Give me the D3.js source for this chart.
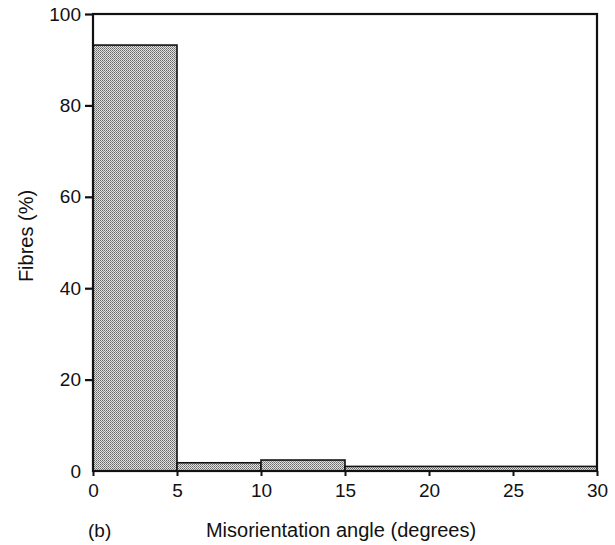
<!DOCTYPE html>
<html><head><meta charset="utf-8">
<script src="https://cdn.jsdelivr.net/npm/d3@7"></script>
<style>body{margin:0;background:#fff;} svg{display:block;} text{font-family:"Liberation Sans",Arial,sans-serif;fill:#111;}</style>
</head><body><svg id="c" width="615" height="545"></svg>
<script>
const binStarts = [0, 5, 10, 15];
const binEnds = [5, 10, 15, 30];
const values = [93.2, 1.8, 2.4, 1.0];
const xTicks = [0, 5, 10, 15, 20, 25, 30];
const yTicks = [0, 20, 40, 60, 80, 100];

const svg = d3.select("#c");
const m = {l: 93, r: 18, t: 14, b: 74};
const W = 615, H = 545;
const x = d3.scaleLinear().domain([0, 30]).range([m.l, W - m.r]);
const y = d3.scaleLinear().domain([0, 100]).range([H - m.b, m.t]);

const defs = svg.append("defs");
const pat = defs.append("pattern").attr("id", "stip").attr("width", 2).attr("height", 2).attr("patternUnits", "userSpaceOnUse");
pat.append("rect").attr("width", 2).attr("height", 2).attr("fill", "#e2e2e2");
pat.append("rect").attr("x", 0).attr("y", 0).attr("width", 1).attr("height", 1).attr("fill", "#666");
pat.append("rect").attr("x", 1).attr("y", 1).attr("width", 1).attr("height", 1).attr("fill", "#888");

const data = binStarts.map((s, i) => ({s, e: binEnds[i], v: values[i]}));
svg.append("g").selectAll("rect").data(data).join("rect")
  .attr("x", d => x(d.s)).attr("width", d => x(d.e) - x(d.s))
  .attr("y", d => y(d.v)).attr("height", d => y(0) - y(d.v))
  .attr("fill", "url(#stip)").attr("stroke", "#111").attr("stroke-width", 1.6);

// frame
svg.append("rect").attr("x", x(0)).attr("y", y(100)).attr("width", x(30) - x(0)).attr("height", y(0) - y(100))
  .attr("fill", "none").attr("stroke", "#111").attr("stroke-width", 2.2);

const xa = svg.append("g").attr("transform", `translate(0,${y(0)})`)
  .call(d3.axisBottom(x).tickValues(xTicks).tickSize(5).tickPadding(8));
xa.select(".domain").remove();
xa.selectAll("line").attr("stroke", "#111").attr("stroke-width", 2);
xa.selectAll("text").attr("font-size", 19).style("font-family", "Liberation Sans, Arial, sans-serif").attr("fill", "#111");

const ya = svg.append("g").attr("transform", `translate(${x(0)},0)`)
  .call(d3.axisLeft(y).tickValues(yTicks).tickSize(8).tickPadding(4));
ya.select(".domain").remove();
ya.selectAll("line").attr("stroke", "#111").attr("stroke-width", 2.2);
ya.selectAll(".tick").filter(d => d === 0).select("line").remove();
ya.selectAll("text").attr("font-size", 19).style("font-family", "Liberation Sans, Arial, sans-serif").attr("fill", "#111");

svg.append("text").attr("transform", `translate(33,236) rotate(-90)`).attr("text-anchor", "middle")
  .attr("font-size", 20).text("Fibres (%)");
svg.append("text").attr("x", 341).attr("y", 537).attr("text-anchor", "middle").attr("font-size", 20)
  .text("Misorientation angle (degrees)");
svg.append("text").attr("x", 88).attr("y", 537).attr("font-size", 19).text("(b)");
</script></body></html>
